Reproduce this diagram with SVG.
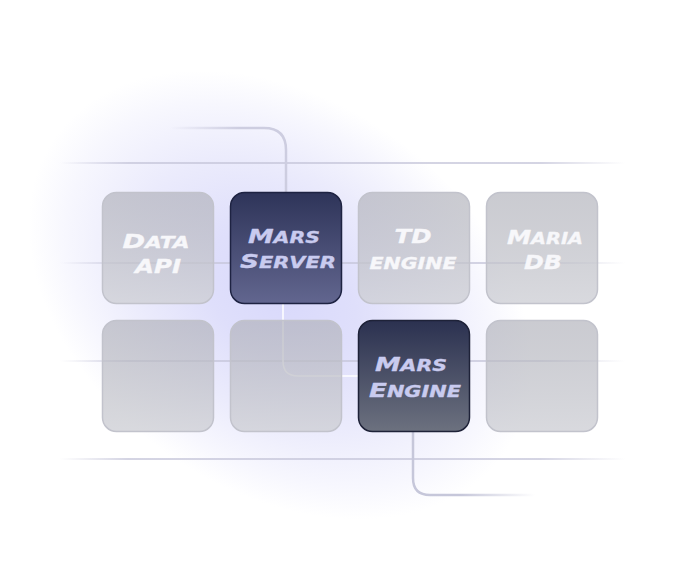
<svg xmlns="http://www.w3.org/2000/svg" width="700" height="576" viewBox="0 0 700 576">
<defs>
<radialGradient id="glow" cx="0" cy="0" r="1" gradientUnits="userSpaceOnUse" gradientTransform="translate(280 295) rotate(35) scale(275 195)">
<stop offset="0" stop-color="#d9d9fb"/>
<stop offset="0.3" stop-color="#dfdffb"/>
<stop offset="0.6" stop-color="#ebebfc"/>
<stop offset="0.85" stop-color="#f7f7fe"/>
<stop offset="1" stop-color="#ffffff"/>
</radialGradient>
<linearGradient id="hl" x1="0" x2="1" y1="0" y2="0">
<stop offset="0" stop-color="#c6c6da" stop-opacity="0"/>
<stop offset="0.12" stop-color="#c6c6da" stop-opacity="0.75"/>
<stop offset="0.85" stop-color="#c6c6da" stop-opacity="0.75"/>
<stop offset="1" stop-color="#c6c6da" stop-opacity="0"/>
</linearGradient>
<linearGradient id="gray" x1="0" y1="0" x2="0" y2="1">
<stop offset="0" stop-color="#aeafb8" stop-opacity="0.65"/>
<stop offset="1" stop-color="#cfd0d6" stop-opacity="0.8"/>
</linearGradient>
<linearGradient id="dark1" x1="0" y1="0" x2="0" y2="1">
<stop offset="0" stop-color="#2e3459"/>
<stop offset="1" stop-color="#62668f"/>
</linearGradient>
<linearGradient id="dark2" x1="0" y1="0" x2="0" y2="1">
<stop offset="0" stop-color="#2b3150"/>
<stop offset="1" stop-color="#6c717f"/>
</linearGradient>
<linearGradient id="c1" gradientUnits="userSpaceOnUse" x1="170" y1="0" x2="240" y2="0">
<stop offset="0" stop-color="#cdcde0" stop-opacity="0"/>
<stop offset="1" stop-color="#cdcde0"/>
</linearGradient>
<linearGradient id="c3" gradientUnits="userSpaceOnUse" x1="460" y1="0" x2="535" y2="0">
<stop offset="0" stop-color="#c6c7da"/>
<stop offset="1" stop-color="#c6c7da" stop-opacity="0"/>
</linearGradient>
</defs>
<style>
.tile{fill:url(#gray);stroke:#c2c3cc;stroke-width:1.5}
.dk1{fill:url(#dark1);stroke:#1e2342;stroke-width:1.5}
.dk2{fill:url(#dark2);stroke:#1e2238;stroke-width:1.5}
.lbl{font-family:"DejaVu Sans",sans-serif;font-weight:bold;font-style:italic;font-size:19.5px;text-anchor:middle;stroke-width:0.35;stroke-linejoin:round}
.sm{font-size:15.5px}
.w{fill:#f7f7fa;stroke:#f7f7fa}
.l{fill:#c9cbef;stroke:#c9cbef}
</style>
<rect width="700" height="576" fill="url(#glow)"/>
<g id="gridlines">
<rect x="60" y="162" width="565" height="2" fill="url(#hl)"/>
<rect x="60" y="262" width="565" height="2" fill="url(#hl)"/>
<rect x="60" y="360" width="565" height="2" fill="url(#hl)"/>
<rect x="60" y="458" width="565" height="2" fill="url(#hl)"/>
</g>
<g id="connectors" fill="none">
<path d="M170 128 H264 Q286 128 286 150 V192" stroke="url(#c1)" stroke-width="2.5"/>
<path d="M283 304 V361 Q283 376 298 376 H358" stroke="#ffffff" stroke-width="1.5"/>
<path d="M413 432 V478 Q413 495 430 495 H535" stroke="url(#c3)" stroke-width="2.5"/>
</g>
<g id="data-api">
<rect class="tile" x="102.5" y="192.5" width="111" height="111" rx="14"/>
<text class="lbl w" x="156" y="248" textLength="67" lengthAdjust="spacingAndGlyphs">D<tspan class="sm">ATA</tspan></text>
<text class="lbl w" x="158" y="273" textLength="46" lengthAdjust="spacingAndGlyphs">API</text>
</g>
<g id="mars-server">
<rect class="dk1" x="230.5" y="192.5" width="111" height="111" rx="14"/>
<text class="lbl l" x="284" y="243" textLength="72" lengthAdjust="spacingAndGlyphs">M<tspan class="sm">ARS</tspan></text>
<text class="lbl l" x="288" y="268" textLength="96" lengthAdjust="spacingAndGlyphs">S<tspan class="sm">ERVER</tspan></text>
</g>
<g id="td-engine">
<rect class="tile" x="358.5" y="192.5" width="111" height="111" rx="14"/>
<text class="lbl w" x="413" y="243" textLength="37" lengthAdjust="spacingAndGlyphs">TD</text>
<text class="lbl w sm" x="413" y="269" textLength="87" lengthAdjust="spacingAndGlyphs">ENGINE</text>
</g>
<g id="maria-db">
<rect class="tile" x="486.5" y="192.5" width="111" height="111" rx="14"/>
<text class="lbl w" x="545" y="244" textLength="76" lengthAdjust="spacingAndGlyphs">M<tspan class="sm">ARIA</tspan></text>
<text class="lbl w" x="543" y="269" textLength="38" lengthAdjust="spacingAndGlyphs">DB</text>
</g>
<g id="empty-1">
<rect class="tile" x="102.5" y="320.5" width="111" height="111" rx="14"/>
</g>
<g id="empty-2">
<rect class="tile" x="230.5" y="320.5" width="111" height="111" rx="14"/>
</g>
<g id="mars-engine">
<rect class="dk2" x="358.5" y="320.5" width="111" height="111" rx="14"/>
<text class="lbl l" x="411" y="371" textLength="72" lengthAdjust="spacingAndGlyphs">M<tspan class="sm">ARS</tspan></text>
<text class="lbl l" x="415" y="397" textLength="92" lengthAdjust="spacingAndGlyphs">E<tspan class="sm">NGINE</tspan></text>
</g>
<g id="empty-3">
<rect class="tile" x="486.5" y="320.5" width="111" height="111" rx="14"/>
</g>
</svg>
